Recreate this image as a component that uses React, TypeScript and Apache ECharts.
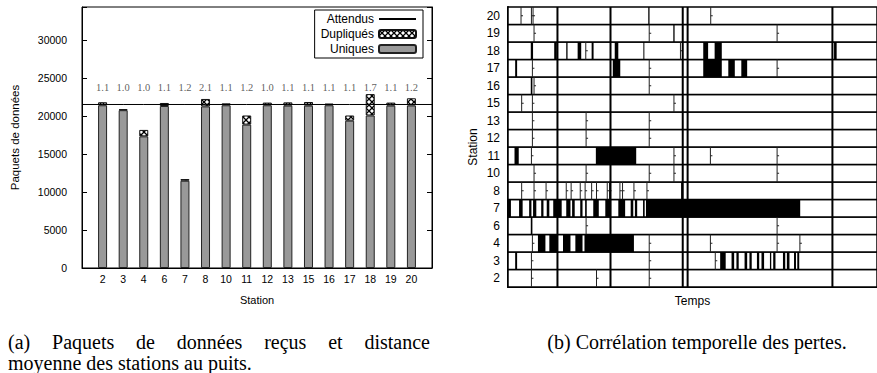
import React, { useEffect, useRef } from 'react';
import * as echarts from 'echarts';

// ---------- (a) received packets ----------
const stations = ['2', '3', '4', '6', '7', '8', '10', '11', '12', '13', '15', '16', '17', '18', '19', '20'];
const uniques = [21450, 20800, 17350, 21350, 11500, 21300, 21450, 18900, 21450, 21400, 21400, 21450, 19420, 20100, 21400, 21420];
const duplicates = [400, 120, 850, 400, 220, 980, 250, 1200, 350, 430, 480, 230, 680, 2820, 400, 950];
const expectedPackets = 21550;
const meanDistance = [1.1, 1.0, 1.0, 1.1, 1.2, 2.1, 1.1, 1.2, 1.0, 1.1, 1.1, 1.1, 1.1, 1.7, 1.1, 1.2];
const yMax = 34400;
const yStep = 5000;

// ---------- (b) loss time correlation (time in arbitrary units) ----------
const lossIntervals: [string, number, number][] = [
  ['20', 431, 435],
  ['19', 508, 512],
  ['18', 70, 77], ['18', 142, 150], ['18', 179, 183], ['18', 214, 225], ['18', 257, 263], ['18', 328, 339],
  ['18', 416, 419], ['18', 600, 615], ['18', 635, 657], ['18', 1002, 1010],
  ['17', 22, 28], ['17', 322, 345], ['17', 600, 657], ['17', 677, 697], ['17', 717, 735],
  ['16', 70, 75],
  ['11', 20, 33], ['11', 270, 394],
  ['8', 532, 536],
  ['7', 0, 9], ['7', 34, 45], ['7', 65, 72], ['7', 77, 87], ['7', 102, 109], ['7', 119, 127], ['7', 139, 165],
  ['7', 179, 192], ['7', 197, 205], ['7', 222, 229], ['7', 237, 242], ['7', 262, 279], ['7', 299, 317],
  ['7', 339, 360], ['7', 377, 385], ['7', 390, 397], ['7', 415, 420], ['7', 424, 898],
  ['6', 70, 75],
  ['4', 92, 115], ['4', 127, 152], ['4', 169, 192], ['4', 207, 229], ['4', 235, 387],
  ['3', 22, 28], ['3', 652, 669], ['3', 687, 695], ['3', 702, 709], ['3', 727, 735], ['3', 742, 749],
  ['3', 765, 772], ['3', 779, 787], ['3', 805, 809], ['3', 815, 822], ['3', 845, 852], ['3', 857, 865],
  ['3', 879, 885], ['3', 889, 895],
];
const receptionMarks: [string, number][] = [
  ['20', 40], ['20', 72], ['20', 77], ['20', 623],
  ['19', 80], ['19', 434], ['19', 827],
  ['18', 239], ['18', 530],
  ['17', 75], ['17', 434], ['17', 827],
  ['16', 80], ['16', 434],
  ['15', 42], ['15', 75], ['15', 510],
  ['13', 75], ['13', 240], ['13', 434],
  ['12', 75], ['12', 240], ['12', 434],
  ['11', 72], ['11', 510], ['11', 622], ['11', 827],
  ['10', 80], ['10', 240], ['10', 434], ['10', 510], ['10', 827],
  ['8', 42], ['8', 80], ['8', 117], ['8', 179], ['8', 194], ['8', 222], ['8', 237], ['8', 257], ['8', 272],
  ['8', 305], ['8', 312], ['8', 344], ['8', 352], ['8', 387], ['8', 427],
  ['6', 240], ['6', 827],
  ['4', 75], ['4', 434], ['4', 622], ['4', 827], ['4', 897],
  ['3', 72], ['3', 434], ['3', 637],
  ['2', 72], ['2', 272], ['2', 434],
];
const globalCuts = [152, 315, 537, 552, 997];
const timeMax = 1134;

const captionA1 = '(a) Paquets de données reçus et distance';
const captionA2 = 'moyenne des stations au puits.';
const captionB = '(b) Corrélation temporelle des pertes.';

const SANS = '"Liberation Sans", Arial, sans-serif';
const SERIF = '"Liberation Serif", "Times New Roman", serif';

export default function App() {
  const ref = useRef<HTMLDivElement>(null);

  useEffect(() => {
    if (!ref.current) return;
    const chart = echarts.init(ref.current, null, { renderer: 'svg' });

    // crosshatch pattern for duplicates
    const cv = document.createElement('canvas');
    cv.width = 6;
    cv.height = 6;
    const ctx = cv.getContext('2d')!;
    ctx.fillStyle = '#fff';
    ctx.fillRect(0, 0, 6, 6);
    ctx.strokeStyle = '#000';
    ctx.lineWidth = 1.3;
    ctx.beginPath();
    ctx.moveTo(0, 0);
    ctx.lineTo(6, 6);
    ctx.moveTo(6, 0);
    ctx.lineTo(0, 6);
    ctx.stroke();
    const hatch: any = { image: cv, repeat: 'repeat', imageWidth: 6, imageHeight: 6 };

    // captions
    const mc = document.createElement('canvas').getContext('2d')!;
    const capSize = 20;
    mc.font = `${capSize}px "Liberation Serif"`;
    const words = captionA1.split(' ');
    const widths = words.map((w) => mc.measureText(w).width);
    const total = widths.reduce((a, b) => a + b, 0);
    const gap = (430 - 8 - total) / (words.length - 1);
    let cx = 8;
    const capStyle = { fontSize: capSize, fontFamily: SERIF, fill: '#000', verticalAlign: 'middle' as const };
    const graphics: any[] = words.map((w, i) => {
      const el = { type: 'text', x: cx, y: 342, silent: true, style: { ...capStyle, text: w } };
      cx += widths[i] + gap;
      return el;
    });
    graphics.push({ type: 'text', x: 8, y: 363, silent: true, style: { ...capStyle, text: captionA2 } });
    graphics.push({ type: 'text', x: 697, y: 342, silent: true, style: { ...capStyle, text: captionB, align: 'center' } });

    const cats = ['', ...stations, ''];
    const labelLevel = 23800;

    const option: any = {
      animation: false,
      backgroundColor: '#fff',
      textStyle: { fontFamily: SANS },
      grid: [
        { left: 82, top: 7, width: 350, height: 261, show: true, borderColor: '#000', borderWidth: 1 },
        { left: 508, top: 7, width: 378, height: 280 },
      ],
      legend: {
        data: [
          { name: 'Attendus', itemStyle: { color: 'rgba(0,0,0,0)', borderWidth: 0, opacity: 0 } },
          { name: 'Dupliqués' },
          { name: 'Uniques' },
        ],
        orient: 'vertical',
        align: 'right',
        right: 454,
        top: 10,
        itemWidth: 37,
        itemHeight: 8,
        itemGap: 3,
        padding: [3, 6, 3, 6],
        borderColor: '#000',
        borderWidth: 1,
        selectedMode: false,
        textStyle: { fontSize: 12, color: '#000', fontFamily: SANS, width: 58, align: 'right' },
      },
      xAxis: [
        {
          gridIndex: 0,
          type: 'category',
          data: cats,
          boundaryGap: false,
          axisLine: { lineStyle: { color: '#000' } },
          axisTick: { show: false },
          axisLabel: { color: '#000', fontSize: 10.5, margin: 5, interval: 0 },
          name: 'Station',
          nameLocation: 'middle',
          nameGap: 26,
          nameTextStyle: { color: '#000', fontSize: 11 },
        },
        {
          gridIndex: 1,
          type: 'value',
          min: 0,
          max: timeMax,
          axisLine: { show: true, lineStyle: { color: '#000', width: 2 } },
          axisTick: { show: false },
          axisLabel: { show: false },
          splitLine: { show: false },
          name: 'Temps',
          nameLocation: 'middle',
          nameGap: 8,
          nameTextStyle: { color: '#000', fontSize: 12 },
        },
      ],
      yAxis: [
        {
          gridIndex: 0,
          type: 'value',
          min: 0,
          max: yMax,
          interval: yStep,
          axisLine: { show: true, lineStyle: { color: '#000' } },
          axisTick: { show: true, inside: true, length: 5, lineStyle: { color: '#000' } },
          axisLabel: {
            color: '#000',
            fontSize: 10.5,
            margin: 15,
            formatter: (v: number) => (v % yStep === 0 ? String(v) : ''),
          },
          splitLine: { show: false },
          name: 'Paquets de données',
          nameLocation: 'middle',
          nameGap: 61,
          nameRotate: 90,
          nameTextStyle: { color: '#000', fontSize: 11.5 },
        },
        {
          gridIndex: 0,
          type: 'value',
          position: 'right',
          min: 0,
          max: yMax,
          interval: yStep,
          axisLine: { show: true, lineStyle: { color: '#000' } },
          axisTick: { show: true, inside: true, length: 5, lineStyle: { color: '#000' } },
          axisLabel: { show: false },
          splitLine: { show: false },
        },
        {
          gridIndex: 1,
          type: 'category',
          data: stations,
          axisLine: { show: true, lineStyle: { color: '#000', width: 2 } },
          axisTick: { show: false },
          axisLabel: { color: '#000', fontSize: 12, margin: 8 },
          name: 'Station',
          nameLocation: 'middle',
          nameGap: 29,
          nameRotate: 90,
          nameTextStyle: { color: '#000', fontSize: 12 },
        },
      ],
      series: [
        {
          name: 'Uniques',
          type: 'bar',
          xAxisIndex: 0,
          yAxisIndex: 0,
          stack: 'packets',
          barWidth: 9,
          data: ['-', ...uniques, '-'],
          itemStyle: { color: '#999999', borderColor: '#222', borderWidth: 1 },
          silent: true,
        },
        {
          name: 'Dupliqués',
          type: 'bar',
          xAxisIndex: 0,
          yAxisIndex: 0,
          stack: 'packets',
          barWidth: 9,
          data: ['-', ...duplicates, '-'],
          itemStyle: { color: hatch, borderColor: '#111', borderWidth: 1 },
          silent: true,
        },
        {
          name: 'Attendus',
          type: 'line',
          xAxisIndex: 0,
          yAxisIndex: 0,
          data: cats.map(() => expectedPackets),
          symbol: 'none',
          lineStyle: { color: '#000', width: 1 },
          itemStyle: { color: '#000' },
          silent: true,
          z: 3,
        },
        {
          name: 'distance',
          type: 'scatter',
          xAxisIndex: 0,
          yAxisIndex: 0,
          symbolSize: 0,
          colorBy: 'series',
          itemStyle: { color: '#333' },
          data: ['-', ...meanDistance.map(() => labelLevel), '-'],
          label: {
            show: true,
            position: 'inside',
            formatter: (p: any) => meanDistance[p.dataIndex - 1].toFixed(1),
            fontFamily: SERIF,
            fontSize: 10.5,
            color: '#333',
            textBorderWidth: 0,
          },
          silent: true,
        },
        {
          name: 'rows',
          type: 'custom',
          xAxisIndex: 1,
          yAxisIndex: 2,
          data: stations.map((_, i) => [0, i]),
          renderItem: (params: any, api: any) => {
            const cs = params.coordSys;
            const y = api.coord([0, api.value(1)])[1];
            const h = api.size([0, 1])[1];
            return {
              type: 'rect',
              shape: { x: cs.x, y: y - h / 2, width: cs.width, height: h },
              style: { fill: '#fff', stroke: '#000', lineWidth: 1.5 },
            };
          },
          silent: true,
          z: 1,
        },
        {
          name: 'marks',
          type: 'custom',
          xAxisIndex: 1,
          yAxisIndex: 2,
          data: receptionMarks.map(([s, t]) => [t, stations.indexOf(s)]),
          renderItem: (params: any, api: any) => {
            const p = api.coord([api.value(0), api.value(1)]);
            const h = api.size([0, 1])[1];
            return {
              type: 'group',
              children: [
                { type: 'line', shape: { x1: p[0], y1: p[1] - h / 2, x2: p[0], y2: p[1] + h / 2 }, style: { stroke: '#222', lineWidth: 1 } },
                { type: 'line', shape: { x1: p[0], y1: p[1], x2: p[0] + 2, y2: p[1] }, style: { stroke: '#222', lineWidth: 1 } },
              ],
            };
          },
          silent: true,
          z: 2,
        },
        {
          name: 'losses',
          type: 'custom',
          xAxisIndex: 1,
          yAxisIndex: 2,
          encode: { x: [0, 2], y: 1 },
          data: lossIntervals.map(([s, a, b]) => [a, stations.indexOf(s), b]),
          renderItem: (params: any, api: any) => {
            const p0 = api.coord([api.value(0), api.value(1)]);
            const p1 = api.coord([api.value(2), api.value(1)]);
            const h = api.size([0, 1])[1];
            return {
              type: 'rect',
              shape: { x: p0[0], y: p0[1] - h / 2, width: Math.max(p1[0] - p0[0], 1), height: h },
              style: { fill: '#000' },
            };
          },
          silent: true,
          z: 3,
        },
        {
          name: 'cuts',
          type: 'custom',
          xAxisIndex: 1,
          yAxisIndex: 2,
          data: globalCuts.map((t) => [t, 0]),
          renderItem: (params: any, api: any) => {
            const cs = params.coordSys;
            const x = api.coord([api.value(0), 0])[0];
            return {
              type: 'line',
              shape: { x1: x, y1: cs.y, x2: x, y2: cs.y + cs.height },
              style: { stroke: '#000', lineWidth: 2 },
            };
          },
          silent: true,
          z: 4,
        },
      ],
      graphic: graphics,
    };

    chart.setOption(option);
    return () => chart.dispose();
  }, []);

  return (
    <div
      ref={ref}
      style={{ position: 'fixed', left: 0, top: 0, width: 877, height: 373, background: '#fff' }}
    />
  );
}
